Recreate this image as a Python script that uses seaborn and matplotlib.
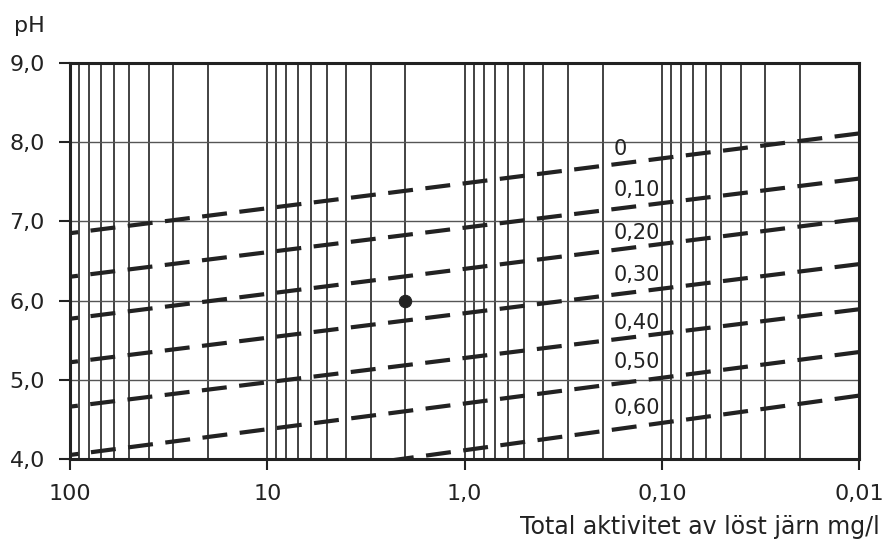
"""
pH mot total aktivitet av löst järn - återskapat diagram.
"""

import numpy as np
import pandas as pd
import matplotlib
matplotlib.use('Agg')
import matplotlib.pyplot as plt
import seaborn as sns
from matplotlib.ticker import LogLocator, NullFormatter

# Data
curve_labels = ['0', '0,10', '0,20', '0,30', '0,40', '0,50', '0,60']
x_ends = [100, 0.01]                       # linjernas ändpunkter (mg/l)
ph_left = [6.85, 6.30, 5.77, 5.22, 4.66, 4.05, 3.42]    # pH vid 100 mg/l
ph_right = [8.11, 7.54, 7.03, 6.46, 5.89, 5.35, 4.80]   # pH vid 0,01 mg/l

label_x = 0.175
label_y = [7.91, 7.40, 6.85, 6.32, 5.72, 5.22, 4.64]

point_x = [2.0]
point_y = [6.0]

x_ticks = [100, 10, 1, 0.1, 0.01]
x_ticklabels = ['100', '10', '1,0', '0,10', '0,01']
y_ticks = [4, 5, 6, 7, 8, 9]
y_ticklabels = ['4,0', '5,0', '6,0', '7,0', '8,0', '9,0']

INK = '#222222'

sns.set_theme(style='white')
plt.rcParams['font.family'] = ['DejaVu Sans']

fig, ax = plt.subplots(figsize=(8.86, 5.47), dpi=100)
fig.subplots_adjust(left=0.079, right=0.970, bottom=0.161, top=0.885)

# Långt format för linjerna
rows = []
for lab, y0, y1 in zip(curve_labels, ph_left, ph_right):
    rows.append({'label': lab, 'x': x_ends[0], 'ph': y0})
    rows.append({'label': lab, 'x': x_ends[1], 'ph': y1})
df = pd.DataFrame(rows)

for lab in curve_labels:
    sub = df[df['label'] == lab]
    sns.lineplot(data=sub, x='x', y='ph', ax=ax, color=INK, lw=3.0,
                 linestyle=(0, (6, 3)), solid_capstyle='butt',
                 dash_capstyle='butt', zorder=3, legend=False)

sns.scatterplot(x=point_x, y=point_y, ax=ax, color=INK, s=80,
                edgecolor=INK, zorder=4, legend=False)

for lab, ly in zip(curve_labels, label_y):
    ax.text(label_x, ly, lab, ha='left', va='center', fontsize=15,
            color=INK, zorder=5)

ax.set_xscale('log')
ax.set_xlim(100, 0.01)
ax.set_ylim(4, 9)

ax.set_xticks(x_ticks, x_ticklabels)
ax.set_yticks(y_ticks, y_ticklabels)
ax.xaxis.set_minor_locator(LogLocator(base=10, subs=np.arange(2, 10)))
ax.xaxis.set_minor_formatter(NullFormatter())

ax.grid(True, which='major', axis='x', color=INK, lw=1.2)
ax.grid(True, which='minor', axis='x', color=INK, lw=1.2)
ax.grid(True, which='major', axis='y', color='#555555', lw=1.0)

ax.tick_params(axis='both', which='major', direction='out', length=8,
               width=1.5, color=INK, labelsize=16, labelcolor=INK,
               bottom=True, left=True, pad=10)
ax.tick_params(axis='x', which='minor', length=0)

for sp in ax.spines.values():
    sp.set_color(INK)
    sp.set_linewidth(2.2)

ax.set_xlabel('')
ax.set_ylabel('')

fig.text(0.033, 0.952, 'pH', ha='center', va='center', fontsize=16, color=INK)
fig.text(0.993, 0.036, 'Total aktivitet av löst järn mg/l', ha='right',
         va='center', fontsize=17, color=INK)

fig.savefig('out.png', dpi=100, facecolor='white')
plt.close(fig)
